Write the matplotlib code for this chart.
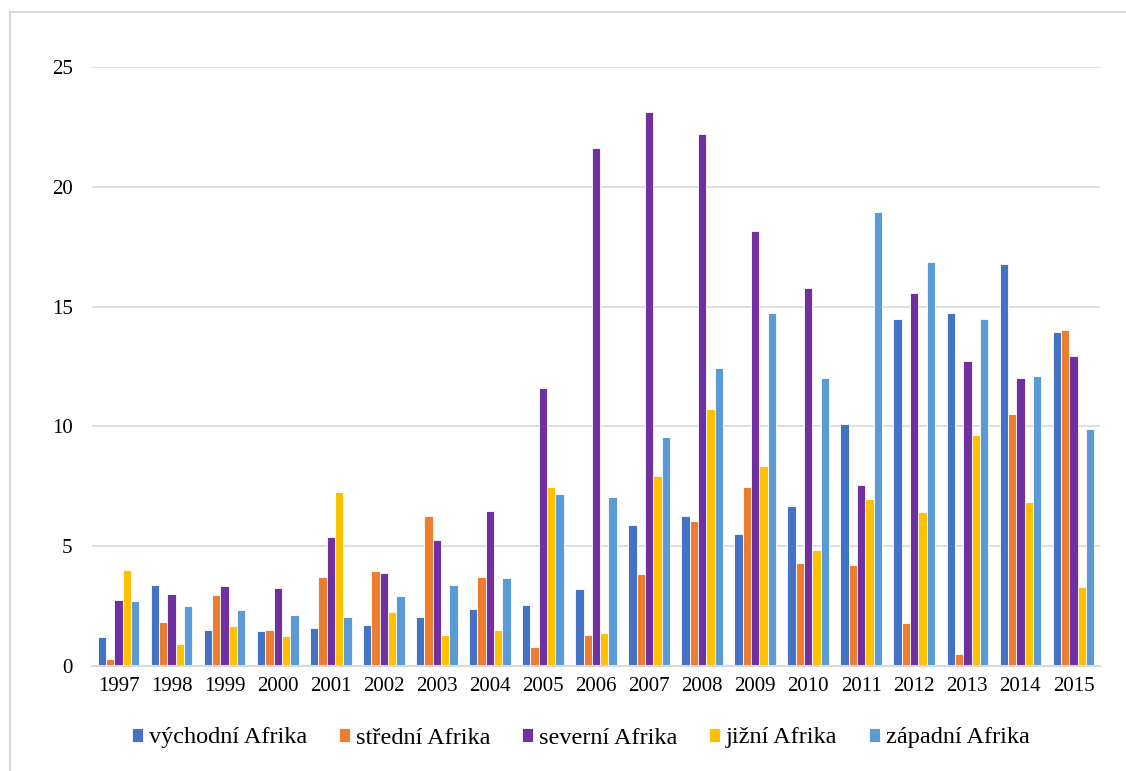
import matplotlib
matplotlib.use("Agg")
import matplotlib.pyplot as plt
import numpy as np
from matplotlib.patches import Rectangle

years = ["1997", "1998", "1999", "2000", "2001", "2002", "2003", "2004", "2005", "2006",
         "2007", "2008", "2009", "2010", "2011", "2012", "2013", "2014", "2015"]

vychodni = [1.23, 3.38, 1.49, 1.48, 1.58, 1.70, 2.06, 2.38, 2.56, 3.23,
            5.87, 6.27, 5.50, 6.68, 10.08, 14.49, 14.75, 16.79, 13.93]
stredni = [0.29, 1.83, 2.98, 1.52, 3.72, 3.96, 6.26, 3.70, 0.80, 1.30,
           3.84, 6.04, 7.46, 4.30, 4.23, 1.78, 0.49, 10.51, 14.03]
severni = [2.76, 3.00, 3.35, 3.24, 5.37, 3.88, 5.27, 6.46, 11.59, 21.63,
           23.13, 22.21, 18.14, 15.76, 7.54, 15.57, 12.75, 12.03, 12.92]
jizni = [4.02, 0.91, 1.69, 1.26, 7.27, 2.27, 1.28, 1.52, 7.49, 1.36,
         7.91, 10.74, 8.36, 4.84, 6.97, 6.42, 9.65, 6.83, 3.28]
zapadni = [2.73, 2.52, 2.33, 2.13, 2.06, 2.91, 3.38, 3.67, 7.16, 7.05,
           9.54, 12.43, 14.72, 12.00, 18.96, 16.87, 14.49, 12.11, 9.88]

series = [
    ("východní Afrika", vychodni, "#4472C4"),
    ("střední Afrika", stredni, "#ED7D31"),
    ("severní Afrika", severni, "#7030A0"),
    ("jižní Afrika", jizni, "#FFC000"),
    ("západní Afrika", zapadni, "#5B9BD5"),
]

plt.rcParams["font.family"] = ["Liberation Serif", "DejaVu Serif"]

fig = plt.figure(figsize=(11.26, 7.71), dpi=100)
ax = fig.add_axes([92 / 1126, 1 - 666 / 771, 1008 / 1126, 599 / 771])

x = np.arange(len(years))
step = 0.157
for i, (name, vals, col) in enumerate(series):
    ax.bar(x + (i - 2) * step, vals, width=step, color=col, label=name,
           edgecolor="white", linewidth=0.6, zorder=3)

ax.set_xlim(-0.5, len(years) - 0.5)
ax.set_ylim(0, 25)
ax.set_yticks([0, 5, 10, 15, 20, 25])
ax.set_xticks(x)
ax.set_xticklabels(years)
ax.tick_params(axis="both", length=0, labelsize=15, colors="black")
ax.tick_params(axis="x", pad=8)
ax.tick_params(axis="y", pad=14)
ax.yaxis.grid(True, color="#D9D9D9", linewidth=1.2, zorder=0)
for s in ["top", "right", "left"]:
    ax.spines[s].set_visible(False)
ax.spines["bottom"].set_color("#D9D9D9")
ax.spines["bottom"].set_linewidth(1.5)
ax.spines["bottom"].set_zorder(4)

fig.legend(loc="center", bbox_to_anchor=(581 / 1126, 1 - 738 / 771), ncol=5,
           frameon=False, fontsize=17.5, handlelength=0.45, handleheight=0.55,
           handletextpad=0.25, columnspacing=1.3)

# outer frame around the chart
fig.add_artist(Rectangle((10 / 1126, -0.01), 1.05, 1 - 12 / 771 + 0.01,
                         transform=fig.transFigure, fill=False,
                         edgecolor="#D9D9D9", linewidth=1.5))

fig.savefig("out.png", dpi=100, facecolor="white")
